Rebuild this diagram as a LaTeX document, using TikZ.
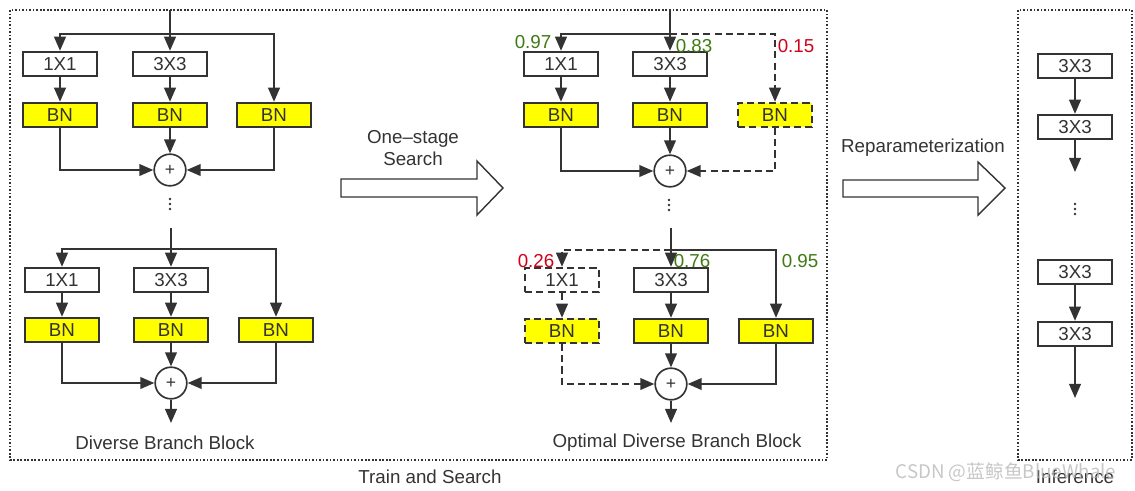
\documentclass[tikz,border=0pt]{standalone}
\usepackage{fontspec}
\setmainfont{Liberation Sans}
\newfontfamily\cjk{Noto Sans CJK SC}
\usepackage{tikz}
\usetikzlibrary{arrows.meta,positioning,calc}
\definecolor{ink}{HTML}{333333}
\definecolor{bnfill}{HTML}{FFFF00}
\definecolor{keep}{HTML}{3F7A12}
\definecolor{drop}{HTML}{D0021B}

\begin{document}
\begin{tikzpicture}[x=0.03cm,y=-0.03cm,
  conv/.style={draw=ink,line width=1.5pt,fill=white,minimum width=2.2cm,minimum height=0.74cm,
               inner sep=0pt,font=\fontsize{16}{18}\selectfont,text=ink},
  bn/.style={conv,fill=bnfill},
  sum/.style={circle,draw=ink,line width=1.4pt,fill=white,minimum size=0.95cm,inner sep=0pt,
              font=\fontsize{15}{18}\selectfont,text=ink},
  arr/.style={-{Triangle[length=12pt,width=10pt]},draw=ink,line width=1.5pt},
  line/.style={draw=ink,line width=1.5pt},
  off/.style={dash pattern=on 6pt off 3.5pt},
  frame/.style={draw=ink,line width=1.2pt,dash pattern=on 1.4pt off 1.6pt},
  lbl/.style={font=\fontsize{16}{19.5}\selectfont,text=ink},
  score/.style={font=\fontsize{16}{18}\selectfont},
  dot/.style={fill=ink}
]
\useasboundingbox (0,0) rectangle (1135,490);

% frames
\draw[frame] (10,10) rectangle (827,460);
\draw[frame] (1018,10) rectangle (1132,460);
\node[lbl] (train) at (430,477) {Train and Search};
\node[lbl] (infer) at (1075,477) {Inference};

% diverse branch block, upper
\coordinate (inA) at (170,10);
\coordinate (jA) at (170,34);
\node[conv] (c1A) at (60,64) {1X1};
\node[conv] (c3A) at (170,64) {3X3};
\node[bn] (b1A) at (60,115) {BN};
\node[bn] (b2A) at (170,115) {BN};
\node[bn] (b3A) at (274,115) {BN};
\node[sum] (pA) at (170,170) {+};
\coordinate (vA) at (170,204);
\draw[line] (inA) -- (jA);
\draw[arr] (jA) -| (c1A);
\draw[arr] (jA) -- (c3A);
\draw[arr] (jA) -| (b3A);
\draw[arr] (c1A) -- (b1A);
\draw[arr] (c3A) -- (b2A);
\draw[arr] (b1A) |- (pA);
\draw[arr] (b2A) -- (pA);
\draw[arr] (b3A) |- (pA);

% diverse branch block, lower
\coordinate (inB) at (171,228);
\coordinate (jB) at (171,249);
\coordinate (outB) at (171,423);
\node[conv] (c1B) at (62,280) {1X1};
\node[conv] (c3B) at (171,280) {3X3};
\node[bn] (b1B) at (62,330) {BN};
\node[bn] (b2B) at (171,330) {BN};
\node[bn] (b3B) at (276,330) {BN};
\node[sum] (pB) at (171,383) {+};
\draw[line] (inB) -- (jB);
\draw[arr] (jB) -| (c1B);
\draw[arr] (jB) -- (c3B);
\draw[arr] (jB) -| (b3B);
\draw[arr] (c1B) -- (b1B);
\draw[arr] (c3B) -- (b2B);
\draw[arr] (b1B) |- (pB);
\draw[arr] (b2B) -- (pB);
\draw[arr] (b3B) |- (pB);
\draw[arr] (pB) -- (outB);
\node[lbl] (dbb) at (165,443) {Diverse Branch Block};

% one-stage search
\draw[line,line width=1.2pt] (341,179) -- (477,179) -- (477,161) -- (503,188)
  -- (477,215) -- (477,197) -- (341,197) -- cycle;
\node[lbl,align=center] (search) at (413,148) {One--stage\\Search};

% optimal block, upper
\coordinate (inC) at (670,10);
\coordinate (jC) at (670,34);
\node[conv] (c1C) at (561,64) {1X1};
\node[conv] (c3C) at (670,64) {3X3};
\node[bn] (b1C) at (561,115) {BN};
\node[bn] (b2C) at (670,115) {BN};
\node[bn,off] (b3C) at (775,115) {BN};
\node[sum] (pC) at (670,171) {+};
\coordinate (vC) at (669,205);
\draw[line] (inC) -- (jC);
\draw[arr] (jC) -| (c1C);
\draw[arr] (jC) -- (c3C);
\draw[arr,off] (jC) -| (b3C);
\draw[arr] (c1C) -- (b1C);
\draw[arr] (c3C) -- (b2C);
\draw[arr] (b1C) |- (pC);
\draw[arr] (b2C) -- (pC);
\draw[arr,off] (b3C) |- (pC);
\node[score,text=keep] (s1C) at (533,42) {0.97};
\node[score,text=keep] (s3C) at (694,46) {0.83};
\node[score,text=drop] (sbC) at (796,46) {0.15};

% optimal block, lower
\coordinate (inD) at (671,228);
\coordinate (jD) at (671,250);
\coordinate (outD) at (671,423);
\node[conv,off] (c1D) at (562,280) {1X1};
\node[conv] (c3D) at (671,280) {3X3};
\node[bn,off] (b1D) at (562,331) {BN};
\node[bn] (b2D) at (671,331) {BN};
\node[bn] (b3D) at (776,331) {BN};
\node[sum] (pD) at (671,384) {+};
\draw[line] (inD) -- (jD);
\draw[arr,off] (jD) -| (c1D);
\draw[arr] (jD) -- (c3D);
\draw[arr] (jD) -| (b3D);
\draw[arr,off] (c1D) -- (b1D);
\draw[arr] (c3D) -- (b2D);
\draw[arr,off] (b1D) |- (pD);
\draw[arr] (b2D) -- (pD);
\draw[arr] (b3D) |- (pD);
\draw[arr] (pD) -- (outD);
\node[score,text=drop] (s1D) at (536,261) {0.26};
\node[score,text=keep] (s3D) at (692,261) {0.76};
\node[score,text=keep] (sbD) at (800,261) {0.95};
\node[lbl] (odbb) at (677,443) {Optimal Diverse Branch Block};

% reparameterization
\draw[line,line width=1.2pt] (843,180) -- (978,180) -- (978,162) -- (1005,188)
  -- (978,215) -- (978,197) -- (843,197) -- cycle;
\node[lbl] (rep) at (923,148) {Reparameterization};

% inference
\coordinate (e2) at (1075,172);
\coordinate (e4) at (1075,398);
\coordinate (vI) at (1075,209);
\node[conv] (i1) at (1075,66) {3X3};
\node[conv] (i2) at (1075,127) {3X3};
\node[conv] (i3) at (1075,272) {3X3};
\node[conv] (i4) at (1075,334) {3X3};
\draw[arr] (i1) -- (i2);
\draw[arr] (i2) -- (e2);
\draw[arr] (i3) -- (i4);
\draw[arr] (i4) -- (e4);

% vertical dots
\foreach \v in {vA,vC,vI}
  \foreach \d in {-5,0,5}
    \fill[dot] ($(\v)+(0,\d)$) circle (1.1pt);

\node[text=gray!55,opacity=0.8,font=\cjk\fontsize{16}{18}\selectfont] (mark) at (1006,472) {CSDN @蓝鲸鱼BlueWhale};
\end{tikzpicture}
\end{document}
